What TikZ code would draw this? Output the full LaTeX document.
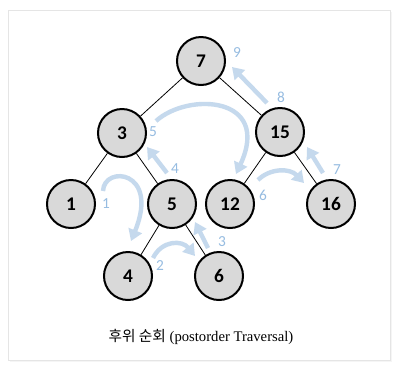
\documentclass[tikz,border=0pt]{standalone}
\usepackage{fontspec}
\setmainfont{Liberation Serif}
\newfontfamily\numfont{Carlito}
\newfontfamily\krfont{Noto Sans CJK KR}
\usetikzlibrary{arrows.meta}
\definecolor{nodegray}{RGB}{217,217,217}
\definecolor{travblue}{RGB}{197,217,237}
\definecolor{numblue}{RGB}{150,188,225}

\begin{document}
\begin{tikzpicture}[x=0.75pt, y=-0.75pt,
  every node/.style={font=\numfont},
  vtx/.style={circle, draw=black, line width=1.5pt, fill=nodegray,
              minimum size=36pt, inner sep=0pt,
              font=\numfont\bfseries\fontsize{14.5}{16}\selectfont},
  edge/.style={black, line width=0.6pt},
  trav/.style={-{Triangle[length=8.5pt, width=10.5pt]}, line width=3.3pt, travblue},
  num/.style={text=numblue, font=\numfont\fontsize{11.5}{13}\selectfont}
]
\useasboundingbox (0,0) rectangle (400,369);

% card with soft shadow
\fill[gray!8] (10,12) rectangle (392,362);
\draw[draw=gray!20, fill=white] (8,10) rectangle (390,360);

% tree nodes
\node[vtx] (n7)  at (201,61)  {7};
\node[vtx] (n3)  at (122,133) {3};
\node[vtx] (n15) at (280,132) {15};
\node[vtx] (n1)  at (71,204)  {1};
\node[vtx] (n5)  at (172,204) {5};
\node[vtx] (n12) at (230,204) {12};
\node[vtx] (n16) at (331,204) {16};
\node[vtx] (n4)  at (128,276) {4};
\node[vtx] (n6)  at (219,276) {6};

\draw[edge] (n7)  -- (n3);
\draw[edge] (n7)  -- (n15);
\draw[edge] (n3)  -- (n1);
\draw[edge] (n3)  -- (n5);
\draw[edge] (n5)  -- (n4);
\draw[edge] (n5)  -- (n6);
\draw[edge] (n15) -- (n12);
\draw[edge] (n15) -- (n16);

% traversal order
\coordinate (t1a) at (103,191); \coordinate (t1b) at (131,241);
\coordinate (t2a) at (153,258); \coordinate (t2b) at (195,256);
\coordinate (t3a) at (208,248); \coordinate (t3b) at (195,222);
\coordinate (t4a) at (167,173); \coordinate (t4b) at (147,147);
\coordinate (t5a) at (156,121); \coordinate (t5b) at (236,174);
\coordinate (t6a) at (258,180); \coordinate (t6b) at (304,183);
\coordinate (t7a) at (323,173); \coordinate (t7b) at (307,147);
\coordinate (t8a) at (267,103); \coordinate (t8b) at (232,67);

\draw[trav] (t1a) .. controls (104,165) and (160,170) .. (t1b);
\draw[trav] (t2a) .. controls (162,240) and (182,240) .. (t2b);
\draw[trav] (t3a) -- (t3b);
\draw[trav] (t4a) -- (t4b);
\draw[trav] (t5a) .. controls (188,92) and (272,96) .. (t5b);
\draw[trav] (t6a) .. controls (270,168) and (290,168) .. (t6b);
\draw[trav] (t7a) -- (t7b);
\draw[trav] (t8a) -- (t8b);

\node[num] (s1) at (106,204) {1};
\node[num] (s2) at (160,266) {2};
\node[num] (s3) at (222,242) {3};
\node[num] (s4) at (175,169) {4};
\node[num] (s5) at (153,132) {5};
\node[num] (s6) at (263,195) {6};
\node[num] (s7) at (337,170) {7};
\node[num] (s8) at (281,97)  {8};
\node[num] (s9) at (237,53)  {9};

\node[font=\fontsize{11}{13}\selectfont] (caption) at (201,337)
  {{\krfont 후위 순회} (postorder Traversal)};
\end{tikzpicture}
\end{document}
